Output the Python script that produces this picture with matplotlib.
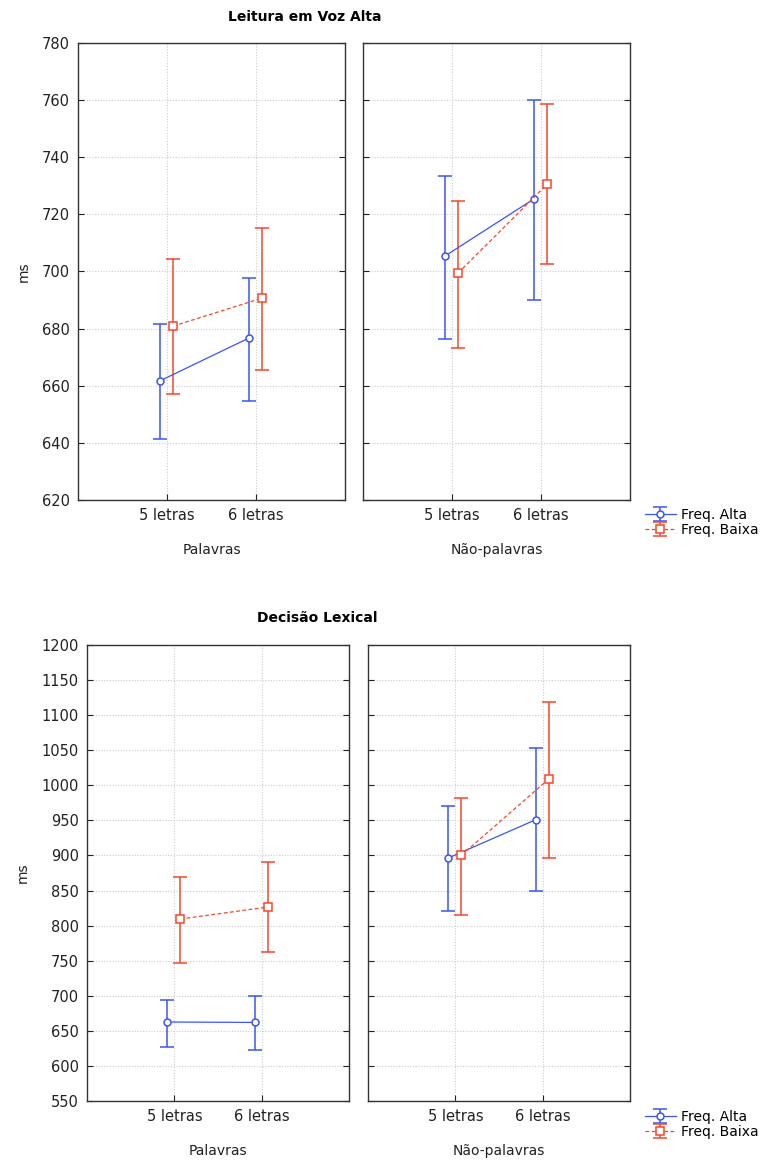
import matplotlib.pyplot as plt
import numpy as np

plt.rcParams["font.family"] = "DejaVu Sans"

W, H = 772, 1165

lengths = ["5 letras", "6 letras"]
groups = ["Palavras", "Não-palavras"]
series = ["Freq. Alta", "Freq. Baixa"]

# Leitura em Voz Alta: mean, lower, upper per group -> series -> length
voz_mean = {
    "Palavras": {"Freq. Alta": [661.7, 676.7], "Freq. Baixa": [680.9, 690.7]},
    "Não-palavras": {"Freq. Alta": [705.4, 725.4], "Freq. Baixa": [699.5, 730.6]},
}
voz_low = {
    "Palavras": {"Freq. Alta": [641.4, 654.6], "Freq. Baixa": [657.1, 665.5]},
    "Não-palavras": {"Freq. Alta": [676.4, 690.0], "Freq. Baixa": [673.2, 702.6]},
}
voz_high = {
    "Palavras": {"Freq. Alta": [681.6, 697.7], "Freq. Baixa": [704.4, 715.2]},
    "Não-palavras": {"Freq. Alta": [733.4, 760.0], "Freq. Baixa": [724.7, 758.6]},
}

# Decisão Lexical
lex_mean = {
    "Palavras": {"Freq. Alta": [662.6, 662.0], "Freq. Baixa": [809.4, 826.5]},
    "Não-palavras": {"Freq. Alta": [896.4, 950.9], "Freq. Baixa": [900.3, 1009.0]},
}
lex_low = {
    "Palavras": {"Freq. Alta": [627.0, 623.0], "Freq. Baixa": [747.0, 762.4]},
    "Não-palavras": {"Freq. Alta": [820.8, 849.8], "Freq. Baixa": [815.5, 896.0]},
}
lex_high = {
    "Palavras": {"Freq. Alta": [694.0, 700.0], "Freq. Baixa": [869.0, 890.7]},
    "Não-palavras": {"Freq. Alta": [970.5, 1052.7], "Freq. Baixa": [982.3, 1118.3]},
}

colors = {"Freq. Alta": "#3a55f5", "Freq. Baixa": "#f5462a"}
markers = {"Freq. Alta": "o", "Freq. Baixa": "s"}
styles = {"Freq. Alta": "-", "Freq. Baixa": (0, (3, 2))}
offsets = {"Freq. Alta": -0.08, "Freq. Baixa": 0.07}

fig = plt.figure(figsize=(W / 100, H / 100), dpi=100)


def px_axes(x0, y0, x1, y1):
    return fig.add_axes([x0 / W, 1 - y1 / H, (x1 - x0) / W, (y1 - y0) / H])


def draw_block(boxes, means, lows, highs, ylim, yticks, title, title_xy, legend_y):
    axes = []
    for i, (grp, box) in enumerate(zip(groups, boxes)):
        ax = px_axes(*box)
        xs = np.arange(1, len(lengths) + 1)
        for s in series:
            m = np.array(means[grp][s])
            lo = np.array(lows[grp][s])
            hi = np.array(highs[grp][s])
            ax.errorbar(
                xs + offsets[s], m, yerr=[m - lo, hi - m],
                color=colors[s], ls=styles[s], lw=0.9,
                marker=markers[s], ms=5.5 if s == "Freq. Baixa" else 5,
                mfc="white", mec=colors[s], mew=1.1,
                capsize=5, elinewidth=1.1, capthick=1.1, label=s, zorder=3,
            )
        ax.set_xlim(0, 3)
        ax.set_ylim(*ylim)
        ax.set_yticks(yticks)
        ax.set_xticks(xs)
        ax.set_xticklabels(lengths, fontsize=10, color="#222222")
        ax.set_xlabel(grp, fontsize=10, color="#222222", labelpad=14)
        ax.grid(True, ls=(0, (1, 1.5)), color="#cccccc", lw=0.8)
        ax.tick_params(direction="in", length=4, right=True, top=False,
                       labelsize=10.5, colors="#222222", pad=6)
        for sp in ax.spines.values():
            sp.set_color("#333333")
            sp.set_linewidth(1.0)
        if i == 0:
            ax.set_ylabel("ms", fontsize=10, color="#222222", labelpad=8)
        else:
            ax.tick_params(labelleft=False)
        axes.append(ax)
    fig.text(title_xy[0] / W, 1 - title_xy[1] / H, title, ha="center", va="center",
             fontsize=10, fontweight="bold")
    handles, labels = axes[1].get_legend_handles_labels()
    fig.legend(handles, labels, loc="upper left",
               bbox_to_anchor=(638 / W, 1 - legend_y / H), frameon=False,
               fontsize=10, handlelength=2.2, handleheight=0.9, borderpad=0,
               labelspacing=0.1, handletextpad=0.4)
    return axes


draw_block(
    [(78, 43, 345, 500), (363, 43, 630, 500)],
    voz_mean, voz_low, voz_high,
    (620, 780), np.arange(620, 781, 20),
    "Leitura em Voz Alta", (305, 17), 501,
)

draw_block(
    [(87, 645, 349, 1101), (368, 645, 630, 1101)],
    lex_mean, lex_low, lex_high,
    (550, 1200), np.arange(550, 1201, 50),
    "Decisão Lexical", (317, 618), 1103,
)

fig.savefig("out.png", dpi=100)
